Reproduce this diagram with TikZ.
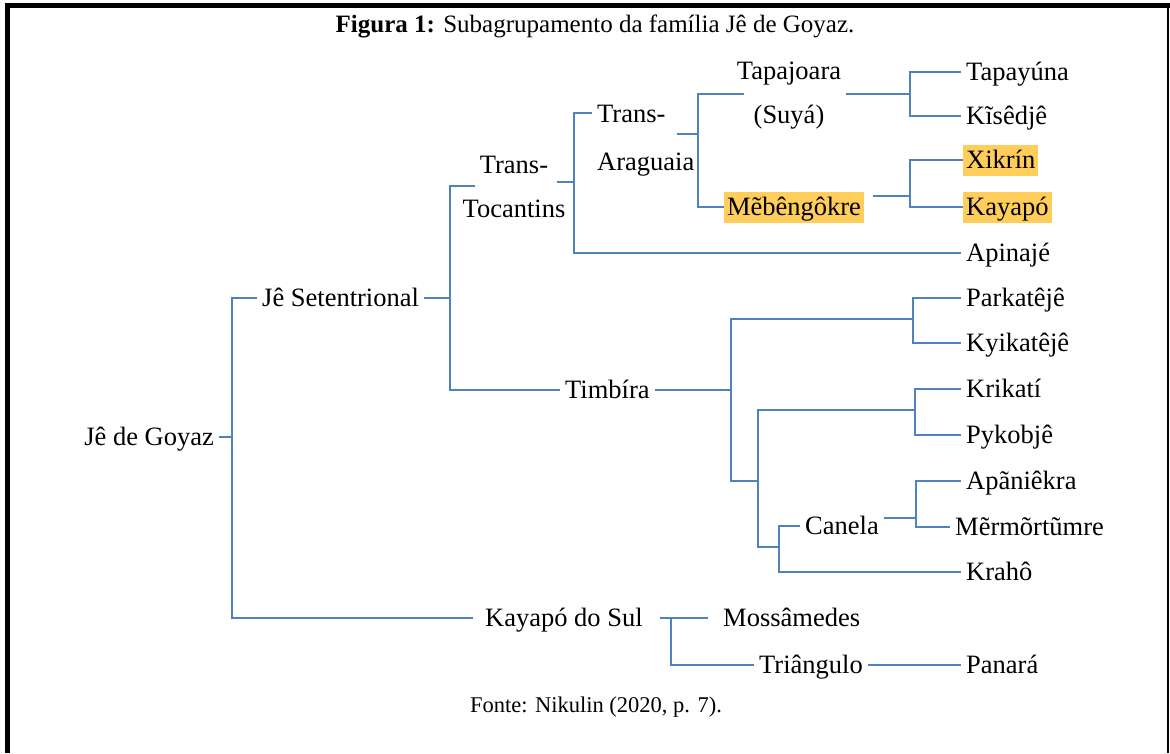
\documentclass[tikz,border=0pt]{standalone}
\usepackage{fontspec}
\setmainfont{Liberation Serif}
\usetikzlibrary{calc,positioning}
\definecolor{linkblue}{RGB}{79,129,189}
\definecolor{hlyellow}{RGB}{255,205,90}

\begin{document}
\begin{tikzpicture}[x=1pt,y=-1pt,
  lbl/.style={inner xsep=5pt,inner ysep=0pt,text height=18pt,text depth=2pt,font=\fontsize{26.5}{44}\selectfont},
  two/.style={inner xsep=5pt,inner ysep=0pt,font=\fontsize{26.5}{44}\selectfont},
  hl/.style={lbl,fill=hlyellow,inner xsep=3pt,inner ysep=5.5pt},
  conn/.style={draw=linkblue,line width=1.3pt}]
              \useasboundingbox (0,0) rectangle (1170,753);
              \draw[line width=5pt] (5,5.5) -- (1170,5.5);
              \draw[line width=5pt] (7.5,3) -- (7.5,753);
              \draw[line width=1.5pt] (1168,5) -- (1168,753);

              \node[font=\fontsize{25}{30}\selectfont] (title) at (595,26) {\textbf{Figura 1:} Subagrupamento da família Jê de Goyaz.};
              \node[font=\fontsize{22.5}{27}\selectfont] (fonte) at (596,707) {Fonte: Nikulin (2020, p. 7).};

              \node[lbl,anchor=east] (goyaz) at (219,437) {Jê de Goyaz};
              \node[lbl,anchor=west] (setent) at (257,298) {Jê Setentrional};
              \node[two,align=center] (tt) at (514,187) {Trans-\\Tocantins};
              \node[two,align=left,anchor=west] (ta) at (592,141) {Trans-\\[4pt]Araguaia};
              \node[two,align=center] (ts) at (789,96) {Tapajoara\\(Suyá)};
              \node[hl] (meb) at (794,207) {Mẽbêngôkre};
              \node[lbl,anchor=west] (timb) at (560,390) {Timbíra};
              \node[lbl,anchor=west] (canela) at (800,526) {Canela};
              \node[lbl,anchor=west] (ks) at (480,618) {Kayapó do Sul};
              \node[lbl,anchor=west] (moss) at (718,618) {Mossâmedes};
              \node[lbl,anchor=west] (tri) at (754,665) {Triângulo};

              \node[lbl,anchor=west] (tapay) at (961,72) {Tapayúna};
              \node[lbl,anchor=west] (kise) at (961,116) {Kĩsêdjê};
              \node[hl,anchor=west] (xik) at (963,160) {Xikrín};
              \node[hl,anchor=west] (kaya) at (963,207) {Kayapó};
              \node[lbl,anchor=west] (apin) at (961,253) {Apinajé};
              \node[lbl,anchor=west] (park) at (961,298) {Parkatêjê};
              \node[lbl,anchor=west] (kyik) at (961,343) {Kyikatêjê};
              \node[lbl,anchor=west] (krik) at (961,389) {Krikatí};
              \node[lbl,anchor=west] (pyko) at (961,435) {Pykobjê};
              \node[lbl,anchor=west] (apan) at (961,481) {Apãniêkra};
              \node[lbl,anchor=west] (merm) at (950,527) {Mẽrmõrtũmre};
              \node[lbl,anchor=west] (kraho) at (961,572) {Krahô};
              \node[lbl,anchor=west] (panara) at (961,665) {Panará};

              \coordinate (jG) at (232,437);
              \coordinate (jJS) at (450,298);
              \coordinate (jTT) at (574,182);
              \coordinate (jTA) at (698,134);
              \coordinate (jTS) at (910,94);
              \coordinate (jMeb) at (910,196);
              \coordinate (jTim) at (731,390);
              \coordinate (jPK) at (913,319);
              \coordinate (jKP) at (758,481);
              \coordinate (jKR) at (915,410);
              \coordinate (jCK) at (779,547);
              \coordinate (jCan) at (916,518);
              \coordinate (jKS) at (671,618);

              \draw[conn] (goyaz.east) -- (jG);
              \draw[conn] (jG) |- (setent.west);
              \draw[conn,shorten >=7pt] (jG) |- (ks.west);
              \draw[conn] (setent.east) -- (jJS);
              \draw[conn] (jJS) |- ([xshift=18pt,yshift=1pt]tt.west);
              \draw[conn] (jJS) |- (timb.west);
              \draw[conn] ([xshift=-14pt]tt.east |- jTT) -- (jTT);
              \draw[conn] (jTT) |- ([yshift=28pt]ta.west);
              \draw[conn] (jTT) |- (apin.west);
              \draw[conn] ([xshift=-23pt]ta.east |- jTA) -- (jTA);
              \draw[conn] (jTA) |- ([xshift=12pt,yshift=2pt]ts.west);
              \draw[conn] (jTA) |- (meb.west);
              \draw[conn] (ts.east |- jTS) -- (jTS);
              \draw[conn] (jTS) |- (tapay.west);
              \draw[conn] (jTS) |- (kise.west);
              \draw[conn,shorten <=9pt] (meb.east |- jMeb) -- (jMeb);
              \draw[conn] (jMeb) |- (xik.west);
              \draw[conn] (jMeb) |- (kaya.west);
              \draw[conn] (timb.east) -- (jTim);
              \draw[conn] (jTim) |- (jPK);
              \draw[conn] (jTim) |- (jKP);
              \draw[conn] (jPK) |- (park.west);
              \draw[conn] (jPK) |- (kyik.west);
              \draw[conn] (jKP) |- (jKR);
              \draw[conn] (jKP) |- (jCK);
              \draw[conn] (jKR) |- (krik.west);
              \draw[conn] (jKR) |- (pyko.west);
              \draw[conn] (jCK) |- (canela.west);
              \draw[conn] (jCK) |- (kraho.west);
              \draw[conn] (canela.east |- jCan) -- (jCan);
              \draw[conn] (jCan) |- (apan.west);
              \draw[conn] (jCan) |- (merm.west);
              \draw[conn,shorten <=12pt,shorten >=10pt] (ks.east) -- (moss.west);
              \draw[conn] (jKS) |- (tri.west);
              \draw[conn] (tri.east) -- (panara.west);
            \end{tikzpicture}
\end{document}
